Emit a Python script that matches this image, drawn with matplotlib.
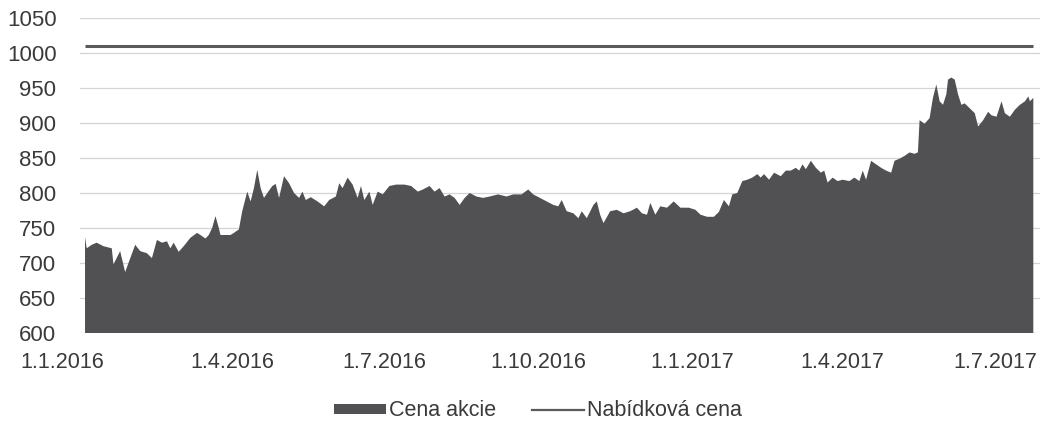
import matplotlib
matplotlib.use("Agg")
import matplotlib.pyplot as plt
import matplotlib.transforms as mtransforms
import pandas as pd
from matplotlib.patches import Patch
from matplotlib.lines import Line2D

plt.rcParams['font.family'] = ['Liberation Sans', 'DejaVu Sans']

dates = [
    "2016-01-04", "2016-01-05", "2016-01-08", "2016-01-11", "2016-01-15", "2016-01-20",
    "2016-01-21", "2016-01-25", "2016-01-28", "2016-01-30", "2016-02-03", "2016-02-06",
    "2016-02-10", "2016-02-13", "2016-02-16", "2016-02-19", "2016-02-22", "2016-02-24",
    "2016-02-26", "2016-02-29", "2016-03-03", "2016-03-07", "2016-03-11", "2016-03-13",
    "2016-03-16", "2016-03-18", "2016-03-20", "2016-03-22", "2016-03-24", "2016-03-25",
    "2016-03-31", "2016-04-02", "2016-04-05", "2016-04-07", "2016-04-10", "2016-04-12",
    "2016-04-14", "2016-04-16", "2016-04-18", "2016-04-20", "2016-04-22", "2016-04-25",
    "2016-04-27", "2016-04-29", "2016-05-02", "2016-05-05", "2016-05-08", "2016-05-11",
    "2016-05-13", "2016-05-15", "2016-05-18", "2016-05-22", "2016-05-26", "2016-05-29",
    "2016-06-02", "2016-06-04", "2016-06-06", "2016-06-09", "2016-06-12", "2016-06-15",
    "2016-06-17", "2016-06-19", "2016-06-22", "2016-06-24", "2016-06-27", "2016-06-30",
    "2016-07-04", "2016-07-08", "2016-07-13", "2016-07-17", "2016-07-21", "2016-07-24",
    "2016-07-28", "2016-07-31", "2016-08-03", "2016-08-06", "2016-08-09", "2016-08-12",
    "2016-08-15", "2016-08-18", "2016-08-21", "2016-08-25", "2016-08-29", "2016-09-02",
    "2016-09-07", "2016-09-12", "2016-09-16", "2016-09-21", "2016-09-25", "2016-09-28",
    "2016-10-02", "2016-10-06", "2016-10-10", "2016-10-13", "2016-10-15", "2016-10-18",
    "2016-10-22", "2016-10-25", "2016-10-27", "2016-10-30", "2016-11-03", "2016-11-05",
    "2016-11-07", "2016-11-09", "2016-11-13", "2016-11-17", "2016-11-21", "2016-11-25",
    "2016-11-29", "2016-12-02", "2016-12-05", "2016-12-07", "2016-12-10", "2016-12-13",
    "2016-12-17", "2016-12-21", "2016-12-25", "2016-12-30", "2017-01-03", "2017-01-06",
    "2017-01-10", "2017-01-14", "2017-01-17", "2017-01-20", "2017-01-23", "2017-01-25",
    "2017-01-28", "2017-01-31", "2017-02-03", "2017-02-06", "2017-02-09", "2017-02-11",
    "2017-02-13", "2017-02-16", "2017-02-19", "2017-02-23", "2017-02-26", "2017-03-01",
    "2017-03-04", "2017-03-06", "2017-03-08", "2017-03-10", "2017-03-13", "2017-03-16",
    "2017-03-19", "2017-03-21", "2017-03-23", "2017-03-26", "2017-03-29", "2017-04-01",
    "2017-04-05", "2017-04-08", "2017-04-11", "2017-04-13", "2017-04-15", "2017-04-18",
    "2017-04-21", "2017-04-24", "2017-04-27", "2017-04-30", "2017-05-02", "2017-05-05",
    "2017-05-08", "2017-05-11", "2017-05-14", "2017-05-16", "2017-05-17", "2017-05-20",
    "2017-05-23", "2017-05-25", "2017-05-27", "2017-05-29", "2017-05-31", "2017-06-02",
    "2017-06-03", "2017-06-05", "2017-06-07", "2017-06-09", "2017-06-11", "2017-06-13",
    "2017-06-16", "2017-06-19", "2017-06-21", "2017-06-24", "2017-06-27", "2017-06-29",
    "2017-07-02", "2017-07-05", "2017-07-07", "2017-07-10", "2017-07-13", "2017-07-16",
    "2017-07-19", "2017-07-21", "2017-07-22", "2017-07-24",
]

share_price = [
    737, 721, 726, 729, 724, 721,
    698, 717, 687, 700, 726, 717,
    714, 707, 733, 729, 731, 721,
    729, 716, 724, 736, 743, 740,
    735, 740, 750, 767, 750, 740,
    740, 743, 748, 774, 802, 788,
    807, 833, 807, 793, 800, 810,
    813, 793, 824, 814, 800, 793,
    802, 790, 794, 788, 781, 790,
    795, 814, 807, 822, 812, 793,
    810, 790, 802, 783, 802, 798,
    810, 812, 812, 810, 802, 805,
    810, 802, 807, 795, 798, 793,
    783, 793, 800, 795, 793, 795,
    798, 795, 798, 798, 805, 798,
    793, 788, 783, 781, 790, 774,
    771, 764, 774, 764, 783, 788,
    769, 757, 774, 776, 771, 774,
    779, 771, 769, 786, 769, 781,
    779, 788, 779, 779, 776, 769,
    766, 766, 773, 790, 781, 798,
    800, 817, 819, 822, 827, 822,
    827, 819, 829, 824, 832, 832,
    836, 832, 841, 834, 846, 836,
    829, 832, 815, 822, 817, 819,
    817, 822, 817, 832, 819, 846,
    841, 836, 832, 829, 846, 849,
    853, 858, 856, 858, 904, 899,
    907, 936, 955, 931, 926, 941,
    962, 965, 962, 941, 926, 928,
    921, 914, 895, 904, 916, 911,
    909, 931, 914, 909, 919, 926,
    931, 938, 931, 936,
]

offer_price = 1010

tick_dates = ["2016-01-01", "2016-04-01", "2016-07-01", "2016-10-01",
              "2017-01-01", "2017-04-01", "2017-07-01"]
tick_labels = ["1.1.2016", "1.4.2016", "1.7.2016", "1.10.2016",
               "1.1.2017", "1.4.2017", "1.7.2017"]
y_ticks = [600, 650, 700, 750, 800, 850, 900, 950, 1000, 1050]

series_labels = ["Cena akcie", "Nabídková cena"]

text_color = "#3a3a3a"
area_color = "#515154"
line_color = "#5a5a5a"
grid_color = "#d4d4d4"

x = pd.to_datetime(dates)
xt = pd.to_datetime(tick_dates)

fig = plt.figure(figsize=(10.51, 4.25), dpi=100)
ax = fig.add_axes([80 / 1051, 1 - 333 / 425, 960 / 1051, 315 / 425])

ax.fill_between(x, share_price, 0, color=area_color, linewidth=0, zorder=2)
ax.plot([x[0], x[-1]], [offer_price, offer_price], color=line_color, lw=2.2,
        zorder=3, solid_capstyle="butt")

ax.set_ylim(600, 1050)
ax.set_xlim(pd.Timestamp("2016-01-01"), pd.Timestamp("2017-07-28"))
ax.set_yticks(y_ticks)
ax.set_xticks(xt)
ax.set_xticklabels(tick_labels)

ax.grid(axis="y", color=grid_color, linewidth=0.9, zorder=0)
ax.set_axisbelow(True)
for s in ax.spines.values():
    s.set_visible(False)

ax.tick_params(axis="both", length=0, colors=text_color)
ax.tick_params(axis="y", pad=17, labelsize=16)
ax.tick_params(axis="x", pad=14, labelsize=15.5)

# first date label is nudged left as in the reference
first = ax.get_xticklabels()[0]
first.set_transform(first.get_transform() +
                    mtransforms.ScaledTranslation(-18 / 100, 0, fig.dpi_scale_trans))

handles = [Patch(facecolor=area_color, edgecolor="none"),
           Line2D([0], [0], color=line_color, lw=1.6)]
leg = fig.legend(handles, series_labels, loc="center",
                 bbox_to_anchor=(538 / 1051, 1 - 411 / 425), ncol=2, frameon=False,
                 fontsize=15.5, handlelength=2.4, handleheight=0.35,
                 handletextpad=0.12, columnspacing=1.7, labelcolor=text_color,
                 borderpad=0.1)

fig.savefig("out.png", dpi=100)
